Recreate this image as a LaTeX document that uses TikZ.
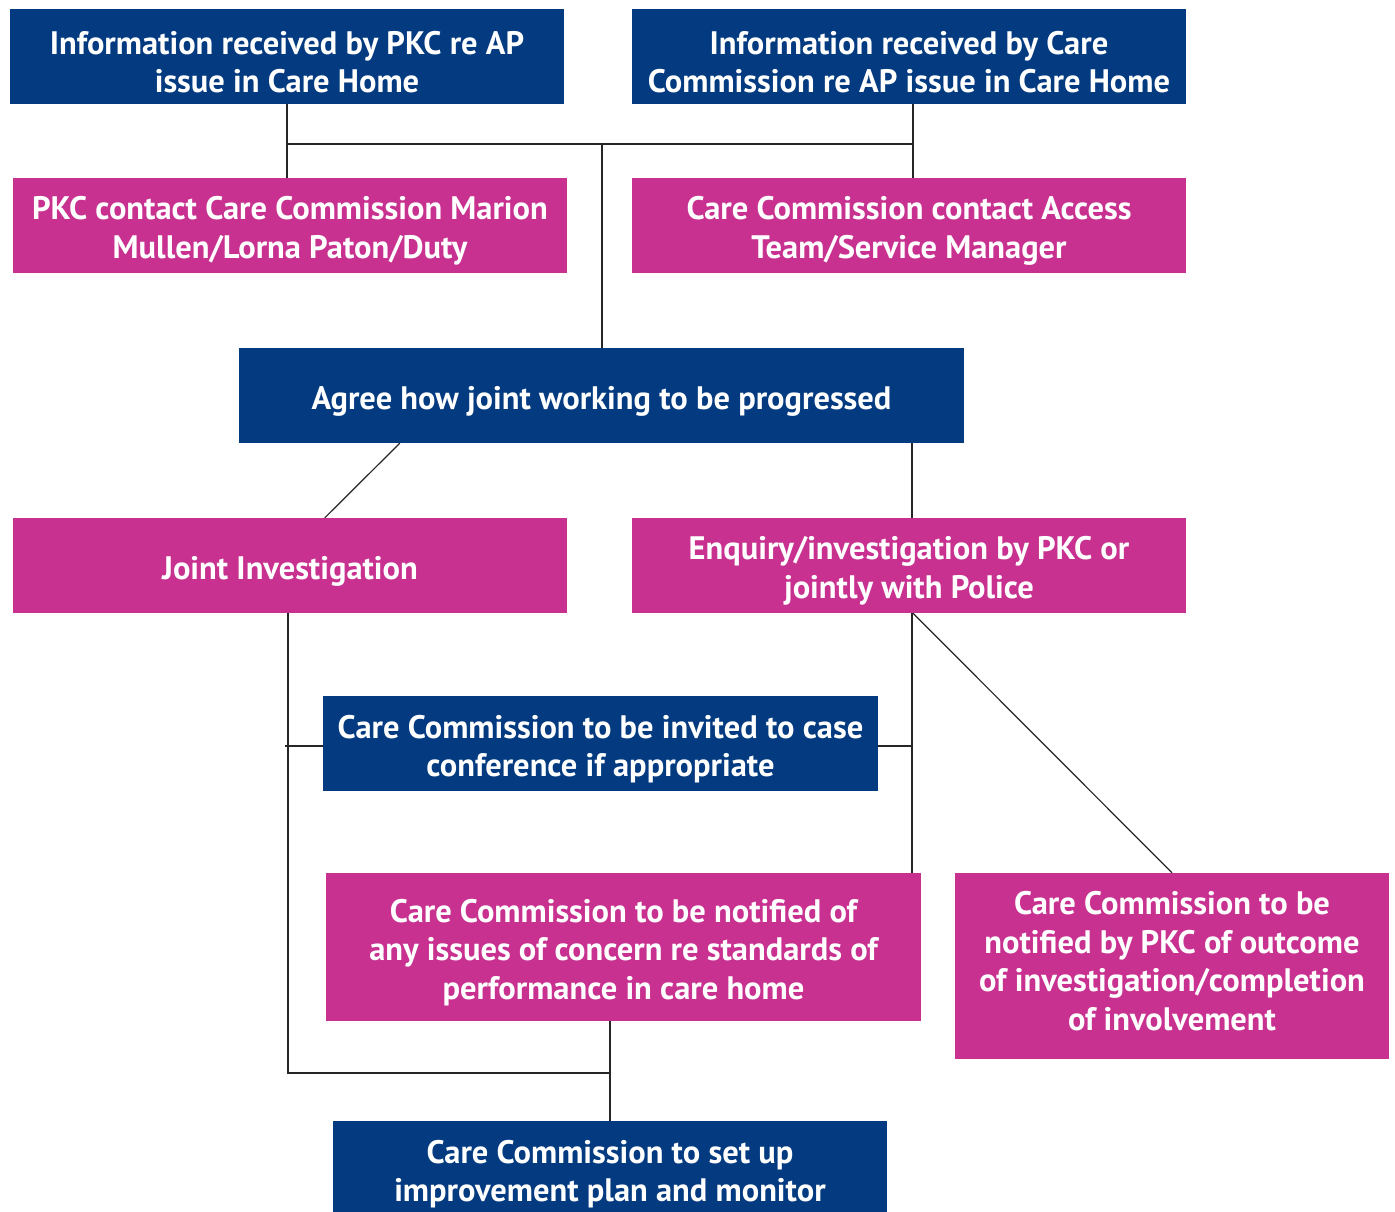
\documentclass[tikz,border=0pt]{standalone}
\usepackage{fontspec}
\setmainfont{PT Sans}
\usetikzlibrary{calc}
\definecolor{cblue}{HTML}{033A80}
\definecolor{cpink}{HTML}{C83190}
\newcommand\tup{\rule{0pt}{34pt}}
\begin{document}
\begin{tikzpicture}[x=1pt,y=-1pt,
  box/.style={inner sep=0pt, draw=none, text=white, align=center,
    minimum width=554pt, minimum height=95pt,
    font=\fontsize{32.5}{38.5}\selectfont\bfseries},
  bbox/.style={box, fill=cblue},
  pbox/.style={box, fill=cpink},
  link/.style={line width=1.2pt, draw=black!85}]
\useasboundingbox (0,0) rectangle (1395,1211);
\fill[white] (0,0) rectangle (1395,1211);

\node[bbox] (n1) at (287,56.5) {\tup Information received by PKC re AP\\issue in Care Home};
\node[bbox] (n2) at (909,56.5) {\tup Information received by Care\\Commission re AP issue in Care Home};
\node[pbox] (n3) at (290,225.5) {\tup PKC contact Care Commission Marion\\Mullen/Lorna Paton/Duty};
\node[pbox] (n4) at (909,225.5) {\tup Care Commission contact Access\\Team/Service Manager};
\node[bbox, minimum width=725pt] (n5) at (601.5,395.5) {\tup Agree how joint working to be progressed};
\node[pbox] (n6) at (290,565.5) {\tup Joint Investigation};
\node[pbox] (n7) at (909,565.5) {\tup Enquiry/investigation by PKC or\\jointly with Police};
\node[bbox, minimum width=555pt] (n8) at (600.5,743.5) {\tup Care Commission to be invited to case\\conference if appropriate};
\node[pbox, minimum width=595pt, minimum height=148pt] (n9) at (623.5,947) {\tup Care Commission to be notified of\\any issues of concern re standards of\\performance in care home};
\node[pbox, minimum width=434pt, minimum height=186pt] (n10) at (1172,966) {Care Commission to be\\notified by PKC of outcome\\of investigation/completion\\of involvement\rule[-10pt]{0pt}{10pt}};
\node[bbox] (n11) at (610,1168.5) {\tup Care Commission to set up\\improvement plan and monitor};

\coordinate (j1) at (602,144);
\coordinate (cx913) at (913,0);
\coordinate (cx912) at (912,0);
\coordinate (cx288) at (288,0);
\coordinate (cx285) at (285,0);
\coordinate (cx610) at (610,0);
\coordinate (jb) at (610,1073);
\coordinate (cy746) at (0,746);

\draw[link] (n1.south) -- (n1.south |- n3.north);
\draw[link] (n1.south |- j1) -- (cx913 |- j1);
\draw[link] (cx913 |- n2.south) -- (cx913 |- n4.north);
\draw[link] (j1) -- (j1 |- n5.north);
\draw[link] ($(n5.south west)+(161,0)$) -- ($(n6.north west)+(312,0)$);
\draw[link] (cx912 |- n5.south) -- (cx912 |- n7.north);
\draw[link] (cx288 |- n6.south) -- (cx288 |- jb) -- (jb);
\draw[link] (cx285 |- cy746) -- (n8.west |- cy746);
\draw[link] (n8.east |- cy746) -- (cx912 |- cy746);
\draw[link] (cx912 |- n7.south) -- (cx912 |- n9.north);
\draw[link] (cx913 |- n7.south) -- (n10.north);
\draw[link] (cx610 |- n9.south) -- (cx610 |- n11.north);
\end{tikzpicture}
\end{document}
